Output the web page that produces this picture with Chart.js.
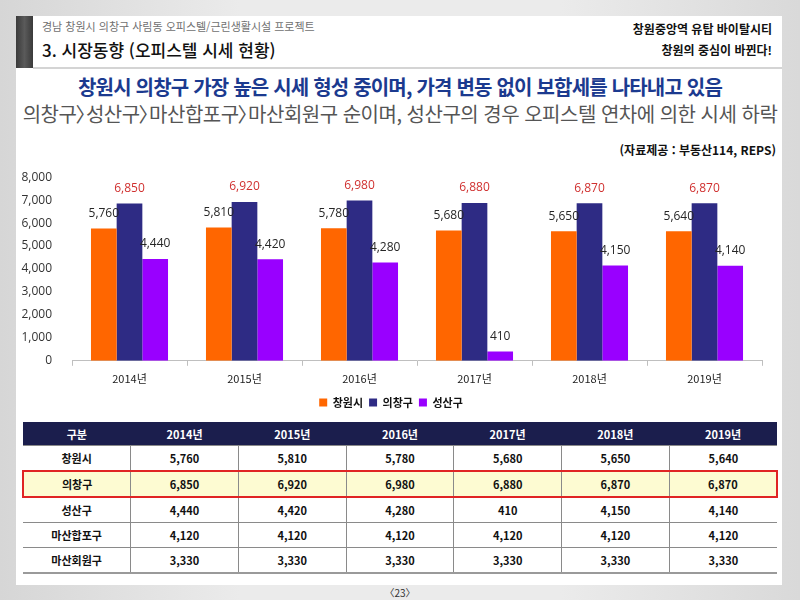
<!DOCTYPE html>
<html lang="ko">
<head>
<meta charset="utf-8">
<script src="https://cdn.jsdelivr.net/npm/chart.js@4.4.0/dist/chart.umd.min.js"></script>
<style>
  html, body { margin: 0; padding: 0; }
  body {
    width: 800px; height: 600px; position: relative; overflow: hidden;
    background: linear-gradient(90deg, #d6d6d6 0%, #ebebeb 30%, #ebebeb 70%, #d9d9d9 100%);
    font-family: "Noto Sans CJK KR", "Noto Sans", sans-serif;
  }
  .panel { position: absolute; left: 16px; top: 16px; width: 766px; height: 569px; background: #fff; }
  .sidebar { position: absolute; left: 16px; top: 16px; width: 17px; height: 52px;
    background: linear-gradient(90deg, #3a3a3a, #5a5a5a 50%, #3a3a3a); }
  .hline { position: absolute; left: 33px; top: 67px; width: 749px; height: 2px; background: #d4d4d4; }
  .t { position: absolute; white-space: nowrap; }
  .br { display: inline-block; margin: 0 -9px 0 -1px; }
  #chartBox { position: absolute; left: 20px; top: 158px; width: 760px; height: 264px; }
  table { position: absolute; left: 22px; top: 422px; width: 756px; border-collapse: collapse;
    font-size: 11px; font-weight: bold; color: #111; table-layout: fixed; }
  th { background: #1b1e4d; color: #fff; height: 23px; padding: 0; font-weight: bold; }
  td { height: 24px; padding: 0; text-align: center; border-top: 1px solid #8a8a8a; border-left: 1px solid #8a8a8a; }
  td:first-child { border-left: none; }
  tr:last-child td { border-bottom: 2px solid #9a9a9a; }
  tr.hl td { background: #fdfbd2; border-top: 2px solid #e02424; border-bottom: 2px solid #e02424; }
  tr.hl td:first-child { border-left: 2px solid #e02424; }
  tr.hl td:last-child { border-right: 2px solid #e02424; }
</style>
</head>
<body>
<div class="panel"></div>
<div class="sidebar"></div>
<div class="hline"></div>

<div class="t" style="left:42px; top:18px; font-size:11px; color:#707070;">경남 창원시 의창구 사림동 오피스텔/근린생활시설 프로젝트</div>
<div class="t" style="left:42px; top:37px; font-size:17px; color:#111; font-weight:500;">3. 시장동향 (오피스텔 시세 현황)</div>
<div class="t" style="right:28px; top:20px; font-size:12px; color:#111; font-weight:bold;">창원중앙역 유탑 바이탈시티</div>
<div class="t" style="right:28px; top:41px; font-size:12px; color:#111; font-weight:bold;">창원의 중심이 바뀐다!</div>

<div class="t" style="left:0; width:800px; text-align:center; top:72px; font-size:20px; color:#1b3a8f; font-weight:bold; letter-spacing:-0.8px;">창원시 의창구 가장 높은 시세 형성 중이며, 가격 변동 없이 보합세를 나타내고 있음</div>
<div class="t" style="left:0; width:800px; text-align:center; top:99px; font-size:20px; color:#555; letter-spacing:-0.5px;">의창구<span class="br">〉</span>성산구<span class="br">〉</span>마산합포구<span class="br">〉</span>마산회원구 순이며, 성산구의 경우 오피스텔 연차에 의한 시세 하락</div>
<div class="t" style="right:24px; top:141px; font-size:12px; color:#111; font-weight:bold;">(자료제공 : 부동산114, REPS)</div>

<div id="chartBox"><canvas id="priceChart"></canvas></div>

<table id="priceTable"></table>

<div class="t" style="left:0; width:800px; text-align:center; top:585px; font-size:10px; color:#333;">〈23〉</div>

<script>
const years = ['2014년', '2015년', '2016년', '2017년', '2018년', '2019년'];
const changwon = [5760, 5810, 5780, 5680, 5650, 5640];
const uichang = [6850, 6920, 6980, 6880, 6870, 6870];
const seongsan = [4440, 4420, 4280, 410, 4150, 4140];
const masanHappo = [4120, 4120, 4120, 4120, 4120, 4120];
const masanHoewon = [3330, 3330, 3330, 3330, 3330, 3330];
const yTicks = [0, 1000, 2000, 3000, 4000, 5000, 6000, 7000, 8000];

const fmt = v => v.toLocaleString('en-US');

// table below the chart
const rows = [
    ['창원시', changwon],
    ['의창구', uichang],
    ['성산구', seongsan],
    ['마산합포구', masanHappo],
    ['마산회원구', masanHoewon]
];
let html = '<tr><th>구분</th>' + years.map(y => '<th>' + y + '</th>').join('') + '</tr>';
rows.forEach(r => {
    html += '<tr' + (r[0] === '의창구' ? ' class="hl"' : '') + '><td>' + r[0] + '</td>' +
        r[1].map(v => '<td>' + fmt(v) + '</td>').join('') + '</tr>';
});
document.getElementById('priceTable').innerHTML = html;

// value labels over each bar
const barLabels = {
    id: 'barLabels',
    afterDatasetsDraw(chart) {
        const ctx = chart.ctx;
        ctx.save();
        ctx.font = '12px "Open Sans", sans-serif';
        ctx.textAlign = 'center';
        ctx.textBaseline = 'middle';
        chart.data.datasets.forEach((ds, i) => {
            ctx.fillStyle = ds.labelColor;
            chart.getDatasetMeta(i).data.forEach((bar, j) => {
                ctx.fillText(fmt(ds.data[j]), bar.x, bar.y - 15);
            });
        });
        ctx.restore();
    }
};

const ctx = document.getElementById('priceChart').getContext('2d');
const priceChart = new Chart(ctx, {
    type: 'bar',
    data: {
        labels: years,
        datasets: [
            { label: '창원시', data: changwon, backgroundColor: '#ff6600', labelColor: '#262626' },
            { label: '의창구', data: uichang, backgroundColor: '#2e2b84', labelColor: '#d0302f' },
            { label: '성산구', data: seongsan, backgroundColor: '#9900ff', labelColor: '#262626' }
        ]
    },
    options: {
        responsive: true,
        maintainAspectRatio: false,
        animation: false,
        categoryPercentage: 0.67,
        barPercentage: 1.0,
        layout: { padding: { top: 4, right: 18, left: 0, bottom: 4 } },
        plugins: {
            tooltip: { enabled: false },
            legend: {
                position: 'bottom',
                labels: {
                    boxWidth: 8, boxHeight: 8, padding: 6,
                    color: '#111',
                    font: { family: '"Noto Sans CJK KR"', size: 11, weight: 'bold' }
                }
            }
        },
        scales: {
            x: {
                grid: { display: true, drawOnChartArea: false, tickLength: 5, color: '#bfbfbf' },
                border: { color: '#bfbfbf' },
                ticks: { color: '#222', padding: 6, font: { family: '"Noto Sans CJK KR"', size: 11 } }
            },
            y: {
                min: 0, max: 8000,
                afterFit(scale) { scale.width = 52; },
                afterBuildTicks(scale) { scale.ticks = yTicks.map(v => ({ value: v })); },
                grid: { display: false },
                border: { display: false },
                ticks: {
                    color: '#333', padding: 12,
                    font: { family: '"Open Sans"', size: 12 },
                    callback: v => fmt(v)
                }
            }
        }
    },
    plugins: [barLabels]
});
</script>
</body>
</html>
